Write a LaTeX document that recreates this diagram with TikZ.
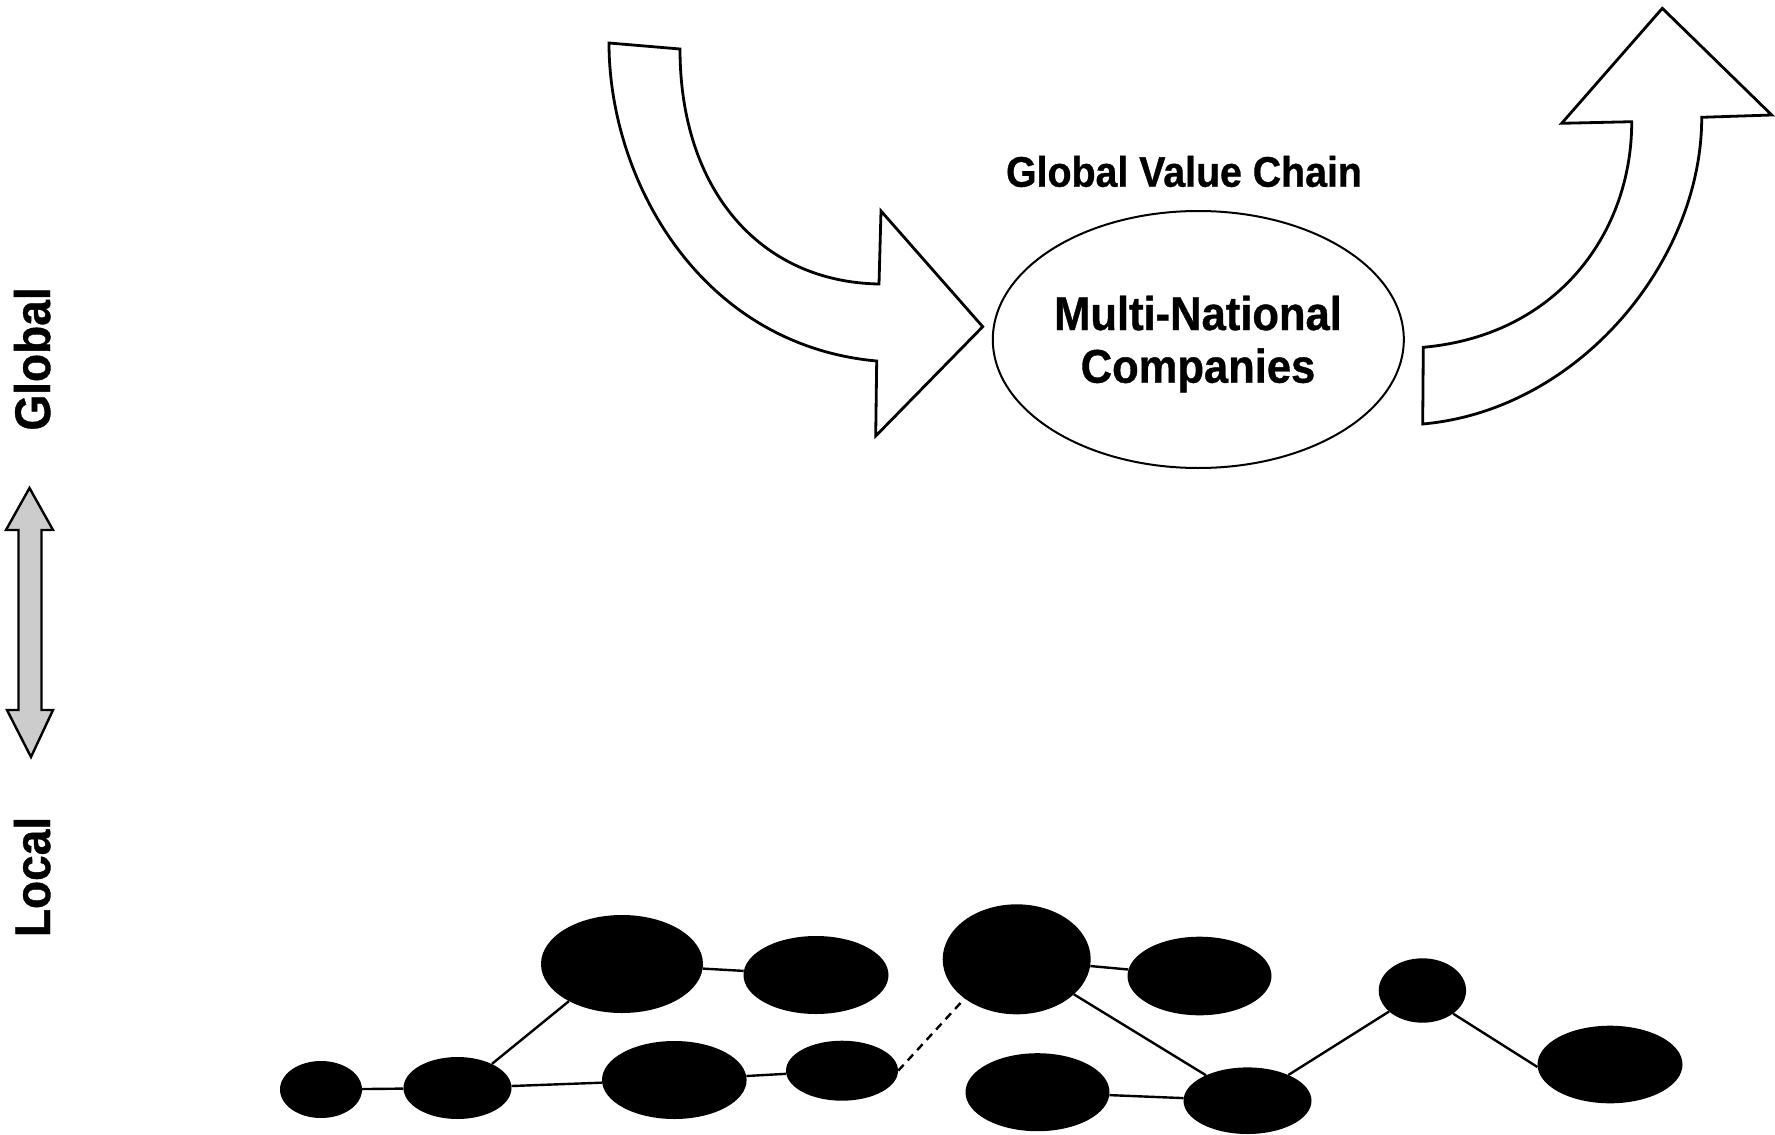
\documentclass[tikz,border=0pt]{standalone}
\usepackage{fontspec}
\usetikzlibrary{shapes.geometric}
\newfontfamily\gvfont[FakeStretch=0.92, FakeBold=0.8]{Liberation Sans}
\tikzset{
  blob/.style={ellipse, fill=black, draw=none, inner sep=0pt},
  link/.style={draw=black, line width=2.4pt},
  dlink/.style={draw=black, line width=2.4pt, dash pattern=on 8pt off 6pt},
  bigarrow/.style={draw=black, line width=2.8pt, fill=white, line join=miter},
  lbl/.style={font=\gvfont\bfseries, inner sep=0pt},
}
\begin{document}
\begin{tikzpicture}[x=1pt, y=-1pt]
\useasboundingbox[fill=white] (0,0) rectangle (1775,1135);

% side labels
\node[lbl, rotate=90, anchor=base, font=\gvfont\bfseries\fontsize{50}{56}\selectfont] (glob) at (50,359) {Global};
\node[lbl, rotate=90, anchor=base, font=\gvfont\bfseries\fontsize{50}{56}\selectfont] (loc) at (50,877) {Local};

% double arrow
\draw[line width=2.4pt, fill=black!20, line join=miter]
  (29.5,488) -- (53,530) -- (41.5,530) -- (41.5,710) -- (53,710) -- (31,757)
  -- (7,710) -- (18.5,710) -- (18.5,530) -- (6,530) -- cycle;

% left curved arrow
\draw[bigarrow]
  (609,43) -- (680,49) .. controls (680,190) and (760,282) .. (879,284)
  -- (881,211) -- (982.7,326.7) -- (875.7,436) -- (876.7,361)
  .. controls (700,345) and (609,180) .. (609,43) -- cycle;

% right curved arrow
\draw[bigarrow]
  (1422.7,424) -- (1423.3,347.3) .. controls (1560,335) and (1632,230) .. (1631.7,121.7)
  -- (1561.7,123.3) -- (1662.3,8.3) -- (1771.7,115) -- (1701.7,117.3)
  .. controls (1702,260) and (1580,410) .. (1422.7,424) -- cycle;

% MNC ellipse
\node[ellipse, draw=black, line width=2pt, inner sep=0pt, minimum width=411pt, minimum height=257pt] (mnc) at (1198.3,339.5) {};
\node[lbl, anchor=base, font=\gvfont\bfseries\fontsize{47.3}{53}\selectfont] (mnc1) at (1198,330) {Multi-National};
\node[lbl, anchor=base, font=\gvfont\bfseries\fontsize{47.3}{53}\selectfont] (mnc2) at (1198,382.7) {Companies};

\node[lbl, anchor=base, font=\gvfont\bfseries\fontsize{42.7}{48}\selectfont] (gvc) at (1184,186.7) {Global Value Chain};

% local network
\node[blob, minimum width=82pt, minimum height=57pt] (e1) at (321,1089.5) {};
\node[blob, minimum width=108pt, minimum height=62pt] (e2) at (457.5,1088) {};
\node[blob, minimum width=162pt, minimum height=98pt] (e3) at (622,964) {};
\node[blob, minimum width=145pt, minimum height=78pt] (e4) at (816,975) {};
\node[blob, minimum width=144.6pt, minimum height=78pt] (e5) at (674.3,1080) {};
\node[blob, minimum width=112pt, minimum height=60pt] (e6) at (842,1070.7) {};
\node[blob, minimum width=148pt, minimum height=110pt] (e7) at (1016.7,959.3) {};
\node[blob, minimum width=144pt, minimum height=78.6pt] (e8) at (1199.5,976) {};
\node[blob, minimum width=144pt, minimum height=78pt] (e9) at (1037.5,1092.2) {};
\node[blob, minimum width=128pt, minimum height=66.6pt] (e10) at (1247.5,1100.7) {};
\node[blob, minimum width=87.4pt, minimum height=64.4pt] (e11) at (1422.4,990.5) {};
\node[blob, minimum width=145pt, minimum height=77.6pt] (e12) at (1610,1064.5) {};

\draw[link] (e1) -- (e2);
\draw[link] (e2.35) -- (e3.215);
\draw[link] (e2) -- (e5);
\draw[link] (e3) -- (e4);
\draw[link] (e5) -- (e6);
\draw[dlink] (e6.east) -- (e7.217);
\draw[link] (e7) -- (e8);
\draw[link] (e7) -- (e10);
\draw[link] (e9) -- (e10);
\draw[link] (e10) -- (e11);
\draw[link] (e11.-37) -- (e12.182);
\end{tikzpicture}
\end{document}
